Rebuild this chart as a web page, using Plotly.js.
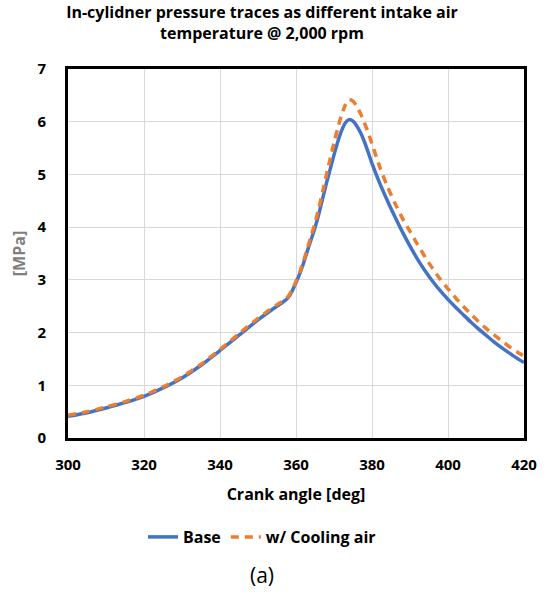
<!DOCTYPE html>
<html>
<head>
<meta charset="utf-8">
<script src="https://cdn.plot.ly/plotly-3.0.1.min.js"></script>
<style>html,body{margin:0;padding:0;background:#fff;}#chart{width:549px;height:594px;}</style>
</head>
<body>
<div id="chart"></div>
<script>
const crankAngle = [300,305,310,315,320,325,330,335,340,345,350,353,355,357,358,359,360,361,362,363,364,365,366,367,368,369,370,371,372,373,374,375,376,377,378,379,380,382,384,386,388,390,392,394,396,398,400,402,404,406,408,410,412,414,416,418,420];
const baseP = [0.41,0.48,0.57,0.67,0.79,0.95,1.14,1.38,1.66,1.95,2.24,2.40,2.50,2.60,2.67,2.79,2.95,3.12,3.32,3.55,3.77,3.99,4.25,4.54,4.83,5.10,5.37,5.62,5.83,5.98,6.04,6.01,5.92,5.79,5.62,5.42,5.21,4.84,4.51,4.20,3.91,3.64,3.39,3.17,2.97,2.79,2.63,2.48,2.34,2.20,2.07,1.95,1.83,1.72,1.62,1.52,1.43];
const coolP = [0.43,0.50,0.59,0.69,0.81,0.97,1.16,1.40,1.68,1.98,2.27,2.43,2.53,2.62,2.69,2.81,2.97,3.15,3.36,3.60,3.84,4.08,4.36,4.67,4.99,5.30,5.60,5.88,6.13,6.32,6.42,6.39,6.29,6.15,5.98,5.79,5.58,5.15,4.78,4.46,4.17,3.92,3.67,3.43,3.21,3.01,2.83,2.66,2.50,2.35,2.21,2.08,1.96,1.85,1.74,1.64,1.55];
const seriesNames = ['Base','w/ Cooling air'];
const xTicks = [300,320,340,360,380,400,420];
const yTicks = [0,1,2,3,4,5,6,7];

const FONT = '"Open Sans", Lato, "DejaVu Sans", sans-serif';

const traces = [
  {x: crankAngle, y: baseP, name: '<b>' + seriesNames[0] + '</b>', type: 'scatter', mode: 'lines',
   line: {color: '#4472C4', width: 3.5, shape: 'spline', smoothing: 0.6}},
  {x: crankAngle, y: coolP, name: '<b>' + seriesNames[1] + '</b>', type: 'scatter', mode: 'lines',
   line: {color: '#ED7D31', width: 3.5, dash: '8px,6px', shape: 'spline', smoothing: 0.6}}
];

const layout = {
  width: 549, height: 594,
  paper_bgcolor: '#fff', plot_bgcolor: '#fff',
  margin: {l: 68, r: 25, t: 69, b: 156, autoexpand: false},
  font: {family: FONT, color: '#000'},
  title: {text: '<b>In-cylidner pressure traces as different intake air<br>temperature @ 2,000 rpm</b>',
          font: {size: 16, family: FONT, color: '#000'},
          x: 262/549, xanchor: 'center', xref: 'container', y: 1 - 18/594, yref: 'container', yanchor: 'top'},
  xaxis: {range: [300, 420], tickvals: xTicks, ticktext: xTicks.map(v => '<b>' + v + '</b>'),
          tickfont: {size: 15, family: FONT, color: '#000'},
          showgrid: true, gridcolor: '#d9d9d9', gridwidth: 1,
          showline: true, linecolor: '#000', linewidth: 3, mirror: true,
          ticks: '', zeroline: false, ticklabelstandoff: 11,
          title: {text: '<b>Crank angle [deg]</b>', font: {size: 16, family: FONT, color: '#000'}, standoff: 16}},
  yaxis: {range: [0, 7], tickvals: yTicks, ticktext: yTicks.map(v => '<b>' + v + '</b>'),
          tickfont: {size: 15, family: FONT, color: '#000'},
          showgrid: true, gridcolor: '#d9d9d9', gridwidth: 1,
          showline: true, linecolor: '#000', linewidth: 3, mirror: true,
          ticks: '', zeroline: false, ticklabelstandoff: 16,
          title: {text: '<b>[MPa]</b>', font: {size: 16, family: FONT, color: '#7f7f7f'}, standoff: 8}},
  showlegend: true,
  legend: {orientation: 'h', x: 262/549, xanchor: 'center', xref: 'container', y: 1 - 537/594, yref: 'container', yanchor: 'middle',
           font: {size: 16, family: FONT, color: '#000'}, tracegroupgap: 0},
  annotations: [{text: '(a)', xref: 'paper', yref: 'paper', x: (262 - 68) / 456, y: (438 - 575) / 369,
                 showarrow: false, font: {size: 21, family: FONT, color: '#000'}, xanchor: 'center', yanchor: 'middle'}]
};

Plotly.newPlot('chart', traces, layout, {displayModeBar: false, staticPlot: true});
</script>
</body>
</html>
